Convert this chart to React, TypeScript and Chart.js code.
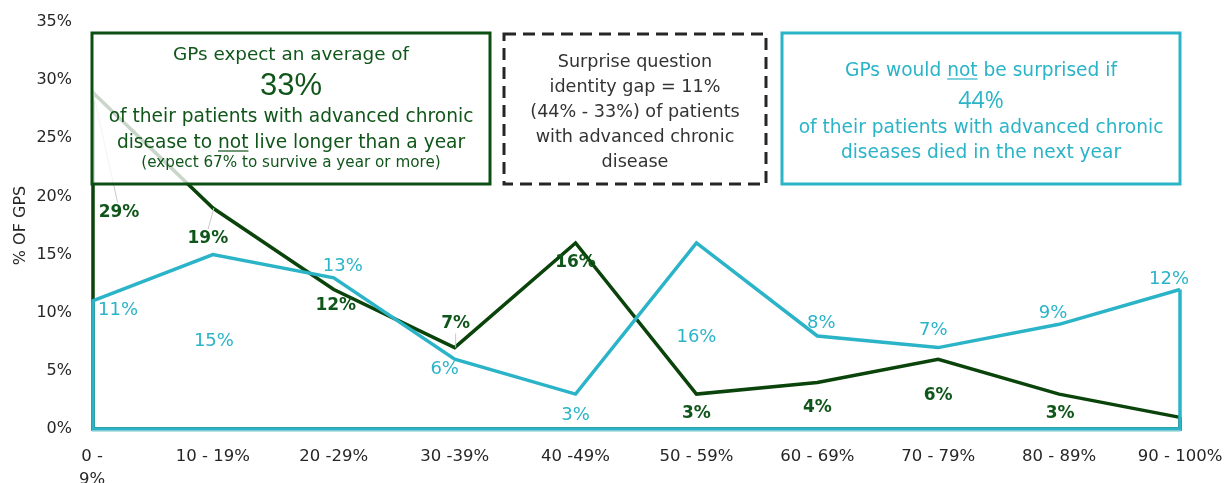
import { useEffect, useRef } from "react";
import { Chart, registerables } from "chart.js";

Chart.register(...registerables);

// Share of patients with advanced chronic disease (binned), per GP answer
const categories = [
  "0 - 9%", "10 - 19%", "20 -29%", "30 -39%", "40 -49%",
  "50 - 59%", "60 - 69%", "70 - 79%", "80 - 89%", "90 - 100%",
];
const tickLabels: (string | string[])[] = [
  ["0 -", "9%"], "10 - 19%", "20 -29%", "30 -39%", "40 -49%",
  "50 - 59%", "60 - 69%", "70 - 79%", "80 - 89%", "90 - 100%",
];

// % of GPs: expected share of patients not living longer than a year
const expectedDeaths = [29, 19, 12, 7, 16, 3, 4, 6, 3, 1];
// % of GPs: share of patients whose death within a year would not surprise them
const notSurprised = [11, 15, 13, 6, 3, 16, 8, 7, 9, 12];

const yTickValues = [0, 5, 10, 15, 20, 25, 30, 35];
const yTitle = "% OF GPS";

// value-label placement (offset from the point, px) and visibility
const expectedLabelOffsets: [number, number][] = [
  [27, 121], [-5, 31], [2, 16], [1, -24], [0, 20],
  [0, 19], [0, 25], [0, 36], [1, 19], [0, 0],
];
const expectedLabelShown = [true, true, true, true, true, true, true, true, true, false];
const expectedLeaders = [true, true, false, true, false, false, false, false, false, false];
const surprisedLabelOffsets: [number, number][] = [
  [26, 9], [1, 87], [9, -12], [-10, 10], [0, 21],
  [0, 94], [4, -13], [-5, -17], [-6, -11], [-11, -10],
];

const DARK_GREEN_LINE = "#0a440b";
const DARK_GREEN_TEXT = "#10561a";
const DARK_GREEN_BOX = "#0c4f12";
const CYAN = "#2bb4c8";
const INK = "#262626";
const FONT = "'DejaVu Sans', Verdana, sans-serif";
const NARROW = "'Liberation Sans Narrow', 'Liberation Sans', sans-serif";

type Part = { t: string; u?: boolean };
type TextLine = { parts: Part[]; size: number; baseline: number; family?: string };
type Box = {
  x0: number; y0: number; x1: number; y1: number;
  stroke: string; color: string; dash?: number[];
  lines: TextLine[];
};

const boxes: Box[] = [
  {
    x0: 92, y0: 33, x1: 490, y1: 184, stroke: DARK_GREEN_BOX, color: DARK_GREEN_TEXT,
    lines: [
      { parts: [{ t: "GPs expect an average of" }], size: 18.4, baseline: 60 },
      { parts: [{ t: "33%" }], size: 31, baseline: 95, family: NARROW },
      { parts: [{ t: "of their patients with advanced chronic" }], size: 18.6, baseline: 122 },
      { parts: [{ t: "disease to " }, { t: "not", u: true }, { t: " live longer than a year" }], size: 18.6, baseline: 148 },
      { parts: [{ t: "(expect 67% to survive a year or more)" }], size: 15.2, baseline: 167 },
    ],
  },
  {
    x0: 504, y0: 34, x1: 766, y1: 184, stroke: INK, color: "#333333", dash: [12, 7],
    lines: [
      { parts: [{ t: "Surprise question" }], size: 17.6, baseline: 67 },
      { parts: [{ t: "identity gap = 11%" }], size: 17.6, baseline: 92 },
      { parts: [{ t: "(44% - 33%) of patients" }], size: 17.6, baseline: 117 },
      { parts: [{ t: "with advanced chronic" }], size: 17.6, baseline: 142 },
      { parts: [{ t: "disease" }], size: 17.6, baseline: 167 },
    ],
  },
  {
    x0: 782, y0: 33, x1: 1180, y1: 184, stroke: CYAN, color: CYAN,
    lines: [
      { parts: [{ t: "GPs would " }, { t: "not", u: true }, { t: " be surprised if" }], size: 18.6, baseline: 76 },
      { parts: [{ t: "44%" }], size: 23, baseline: 108, family: "'Open Sans', sans-serif" },
      { parts: [{ t: "of their patients with advanced chronic" }], size: 18.6, baseline: 133 },
      { parts: [{ t: "diseases died in the next year" }], size: 18.6, baseline: 158 },
    ],
  },
];

function drawLine(ctx: CanvasRenderingContext2D, line: TextLine, cx: number, color: string) {
  ctx.font = `400 ${line.size}px ${line.family ?? FONT}`;
  const widths = line.parts.map((p) => ctx.measureText(p.t).width);
  const total = widths.reduce((a, b) => a + b, 0);
  let x = cx - total / 2;
  ctx.fillStyle = color;
  ctx.strokeStyle = color;
  ctx.textAlign = "left";
  ctx.textBaseline = "alphabetic";
  line.parts.forEach((p, i) => {
    ctx.fillText(p.t, x, line.baseline);
    if (p.u) {
      ctx.lineWidth = 1.2;
      ctx.beginPath();
      ctx.moveTo(x, line.baseline + 3);
      ctx.lineTo(x + widths[i], line.baseline + 3);
      ctx.stroke();
    }
    x += widths[i];
  });
}

// Closes each series down to the zero line, so every series reads as an outlined area
const outlinePlugin = {
  id: "areaOutline",
  afterDatasetDraw(chart: any, args: any) {
    const ds = chart.data.datasets[args.index];
    const pts = args.meta.data;
    if (!pts.length) return;
    const yb = chart.scales.y.getPixelForValue(0);
    const first = pts[0];
    const last = pts[pts.length - 1];
    const ctx = chart.ctx as CanvasRenderingContext2D;
    ctx.save();
    ctx.strokeStyle = ds.borderColor;
    ctx.lineWidth = ds.borderWidth;
    ctx.lineJoin = "miter";
    ctx.beginPath();
    ctx.moveTo(first.x + 1, first.y);
    ctx.lineTo(first.x + 1, yb);
    ctx.lineTo(last.x, yb);
    ctx.lineTo(last.x, last.y);
    ctx.stroke();
    if (ds.baseShade) {
      ctx.strokeStyle = ds.baseShade;
      ctx.lineWidth = 1.5;
      ctx.beginPath();
      ctx.moveTo(first.x, yb + 2);
      ctx.lineTo(last.x + 1, yb + 2);
      ctx.stroke();
    }
    ctx.restore();
  },
};

const annotationPlugin = {
  id: "labelsAndBoxes",
  afterDatasetsDraw(chart: any) {
    const ctx = chart.ctx as CanvasRenderingContext2D;
    const green = chart.getDatasetMeta(1).data;
    const cyan = chart.getDatasetMeta(0).data;
    ctx.save();

    // leader lines from points to displaced labels
    ctx.strokeStyle = "#c9c9c9";
    ctx.lineWidth = 1;
    green.forEach((pt: any, i: number) => {
      if (!expectedLeaders[i]) return;
      const [dx, dy] = expectedLabelOffsets[i];
      ctx.beginPath();
      ctx.moveTo(pt.x + 1, pt.y);
      ctx.lineTo(pt.x + dx * 0.95, pt.y + dy - 10 * Math.sign(dy));
      ctx.stroke();
    });

    // text boxes, translucent white so the lines behind read faintly
    boxes.forEach((b) => {
      ctx.fillStyle = "rgba(255,255,255,0.78)";
      ctx.fillRect(b.x0, b.y0, b.x1 - b.x0, b.y1 - b.y0);
      ctx.strokeStyle = b.stroke;
      ctx.lineWidth = 3;
      ctx.setLineDash(b.dash ?? []);
      ctx.strokeRect(b.x0, b.y0, b.x1 - b.x0, b.y1 - b.y0);
      ctx.setLineDash([]);
      const cx = (b.x0 + b.x1) / 2;
      b.lines.forEach((l) => drawLine(ctx, l, cx, b.color));
    });

    // value labels
    ctx.textAlign = "center";
    ctx.textBaseline = "middle";
    ctx.font = `700 17px ${FONT}`;
    ctx.fillStyle = DARK_GREEN_TEXT;
    green.forEach((pt: any, i: number) => {
      if (!expectedLabelShown[i]) return;
      const [dx, dy] = expectedLabelOffsets[i];
      ctx.fillText(`${expectedDeaths[i]}%`, pt.x + dx, pt.y + dy);
    });
    ctx.font = `400 18px ${FONT}`;
    ctx.fillStyle = CYAN;
    cyan.forEach((pt: any, i: number) => {
      const [dx, dy] = surprisedLabelOffsets[i];
      ctx.fillText(`${notSurprised[i]}%`, pt.x + dx, pt.y + dy);
    });
    ctx.restore();
  },
};

const noEdgePadding = (scale: any) => {
  scale.paddingLeft = 0;
  scale.paddingRight = 0;
  scale.paddingTop = 0;
  scale.paddingBottom = 0;
};

export default function App() {
  const ref = useRef<HTMLCanvasElement>(null);

  useEffect(() => {
    if (!ref.current) return;
    const chart = new Chart(ref.current, {
      type: "line",
      data: {
        labels: categories,
        datasets: [
          {
            label: "Would not be surprised",
            data: notSurprised,
            borderColor: CYAN,
            borderWidth: 3.5,
            pointRadius: 0,
            tension: 0,
            fill: false,
            borderJoinStyle: "miter",
            baseShade: "#9fd8df",
          } as any,
          {
            label: "Expected not to live longer than a year",
            data: expectedDeaths,
            borderColor: DARK_GREEN_LINE,
            borderWidth: 3.5,
            pointRadius: 0,
            tension: 0,
            fill: false,
            borderJoinStyle: "miter",
          } as any,
        ],
      },
      options: {
        animation: false,
        responsive: true,
        maintainAspectRatio: false,
        layout: { padding: { left: 0, right: 46, top: 22, bottom: 0 } },
        plugins: {
          legend: { display: false },
          tooltip: { enabled: false },
        },
        scales: {
          x: {
            type: "category",
            offset: false,
            grid: { display: false },
            border: { display: false },
            ticks: {
              color: INK,
              font: { family: FONT, size: 16.5, lineHeight: 1.4 },
              padding: 8,
              maxRotation: 0,
              autoSkip: false,
              callback: (_v: any, i: number) => tickLabels[i],
            },
            afterFit: (scale: any) => {
              scale.height = 54;
              noEdgePadding(scale);
            },
          },
          y: {
            min: 0,
            max: 35,
            grid: { display: false },
            border: { display: false },
            afterBuildTicks: (scale: any) => {
              scale.ticks = yTickValues.map((v) => ({ value: v }));
            },
            ticks: {
              color: INK,
              font: { family: FONT, size: 16 },
              padding: 12,
              callback: (v: any) => `${v}%`,
            },
            title: {
              display: true,
              text: yTitle,
              color: INK,
              font: { family: FONT, size: 16 },
              padding: { top: 11, bottom: 0 },
            },
            afterFit: (scale: any) => {
              scale.width = 92;
              noEdgePadding(scale);
            },
          },
        },
      },
      plugins: [outlinePlugin, annotationPlugin],
    } as any);
    return () => chart.destroy();
  }, []);

  return (
    <div
      style={{
        position: "absolute",
        left: 0,
        top: 0,
        width: 1226,
        height: 483,
        overflow: "hidden",
        background: "#ffffff",
      }}
    >
      <canvas ref={ref} style={{ display: "block" }} />
    </div>
  );
}
